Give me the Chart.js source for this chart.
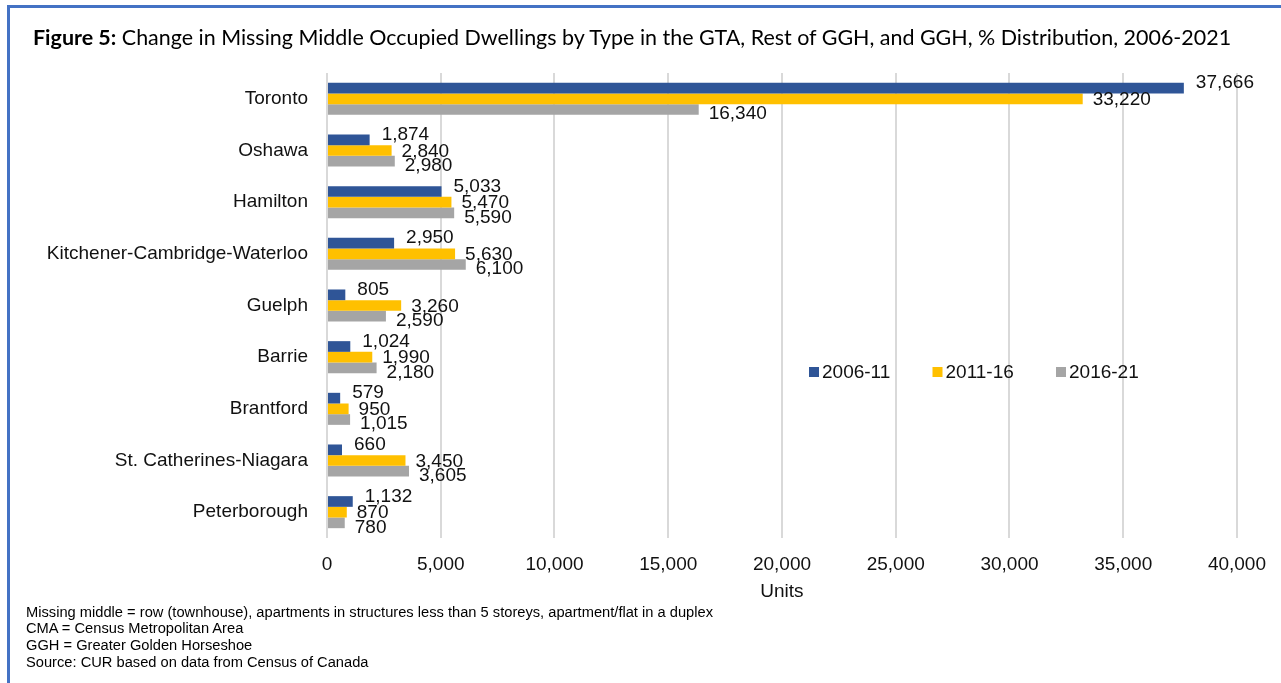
<!DOCTYPE html>
<html>
<head>
<meta charset="utf-8">
<script src="https://cdn.jsdelivr.net/npm/chart.js@4/dist/chart.umd.min.js"></script>
<style>
  html, body { margin:0; padding:0; width:1281px; height:683px; overflow:hidden; background:#fff; }
  #frame { position:absolute; left:7px; top:5px; width:1300px; height:720px; border:3px solid #4472C4; box-sizing:border-box; }
  #title { position:absolute; left:33px; top:27px; white-space:nowrap; font-family:Lato, "Open Sans", sans-serif; font-size:20px; color:#000; line-height:1; }
  #notes { position:absolute; left:26px; top:603.5px; font-family:"Liberation Sans", Arial, sans-serif; font-size:14px; line-height:16.7px; color:#000; white-space:nowrap; transform-origin:0 0; }
  #c { position:absolute; left:0; top:0; }
</style>
</head>
<body>
<div id="frame"></div>
<canvas id="c" width="1281" height="683"></canvas>
<div id="title"><b>Figure 5:</b> Change in Missing Middle Occupied Dwellings by Type in the GTA, Rest of GGH, and GGH, % Distribution, 2006-2021</div>
<div id="notes">
  <div id="n1">Missing middle = row (townhouse), apartments in structures less than 5 storeys, apartment/flat in a duplex</div>
  <div>CMA = Census Metropolitan Area</div>
  <div>GGH = Greater Golden Horseshoe</div>
  <div>Source: CUR based on data from Census of Canada</div>
</div>
<script>
const categories = ['Toronto','Oshawa','Hamilton','Kitchener-Cambridge-Waterloo','Guelph','Barrie','Brantford','St. Catherines-Niagara','Peterborough'];
const seriesNames = ['2006-11','2011-16','2016-21'];
const values2006_11 = [37666, 1874, 5033, 2950, 805, 1024, 579, 660, 1132];
const values2011_16 = [33220, 2840, 5470, 5630, 3260, 1990, 950, 3450, 870];
const values2016_21 = [16340, 2980, 5590, 6100, 2590, 2180, 1015, 3605, 780];
const xMin = 0, xMax = 40000, xStep = 5000;
const axisTitle = 'Units';

const colors = ['#2F5597', '#FFC000', '#A5A5A5'];
const FONT = '"Liberation Sans", Arial, sans-serif';

// fit title width
(function(){
  const t = document.getElementById('title');
  const target = 1199;
  const w = t.getBoundingClientRect().width;
  t.style.fontSize = (20 * target / w) + 'px';
  const n = document.getElementById('notes');
  const n1 = document.getElementById('n1');
  const w1 = n1.getBoundingClientRect().width;
  n.style.transform = 'scaleX(' + (687 / w1) + ')';
})();

const labelPlugin = {
  id: 'barLabels',
  afterDatasetsDraw(chart) {
    const ctx = chart.ctx;
    const dx = [12, 10, 10];
    const dy = [-5, 1, 4.5];
    ctx.save();
    ctx.font = '19px ' + FONT;
    ctx.fillStyle = '#111';
    ctx.textAlign = 'left';
    ctx.textBaseline = 'middle';
    chart.data.datasets.forEach((ds, i) => {
      const meta = chart.getDatasetMeta(i);
      meta.data.forEach((bar, j) => {
        ctx.fillText(ds.data[j].toLocaleString('en-US'), bar.x + dx[i], bar.y + dy[i]);
      });
    });
    ctx.restore();
  }
};

const legendPlugin = {
  id: 'innerLegend',
  afterDraw(chart) {
    const ctx = chart.ctx;
    const a = chart.chartArea;
    const x0 = a.left + 482, y0 = 372, gap = 123.5;
    ctx.save();
    ctx.font = '19px ' + FONT;
    ctx.textBaseline = 'middle';
    ctx.textAlign = 'left';
    chart.data.datasets.forEach((ds, i) => {
      const x = x0 + i * gap;
      ctx.fillStyle = ds.backgroundColor;
      ctx.fillRect(x, y0 - 5, 10, 10);
      ctx.fillStyle = '#111';
      ctx.fillText(ds.label, x + 13, y0 + 1);
    });
    ctx.restore();
  }
};

const ds = [values2006_11, values2011_16, values2016_21].map((d, i) => ({
  label: seriesNames[i],
  data: d,
  backgroundColor: colors[i],
  borderWidth: 0,
  categoryPercentage: 0.62,
  barPercentage: 1.0
}));

new Chart(document.getElementById('c'), {
  type: 'bar',
  data: { labels: categories, datasets: ds },
  options: {
    indexAxis: 'y',
    responsive: false,
    animation: false,
    layout: { padding: { left: 10, top: 73, right: 39, bottom: 75 } },
    plugins: { legend: { display: false }, tooltip: { enabled: false }, title: { display: false } },
    scales: {
      x: {
        min: xMin, max: xMax,
        ticks: { stepSize: xStep, color: '#111', font: { size: 19, family: FONT }, padding: 15,
                 callback: v => v.toLocaleString('en-US') },
        grid: { color: '#d9d9d9', lineWidth: 2, drawTicks: false },
        border: { display: false },
        title: { display: true, text: axisTitle, color: '#111', font: { size: 19, family: FONT }, padding: { top: 0, bottom: 5 } },
        afterFit(s) { s.height = 70; }
      },
      y: {
        ticks: { color: '#111', font: { size: 19, family: FONT }, padding: 19 },
        grid: { display: false, drawTicks: false },
        border: { display: false },
        afterFit(s) { s.width = 317; }
      }
    }
  },
  plugins: [labelPlugin, legendPlugin]
});
</script>
</body>
</html>
